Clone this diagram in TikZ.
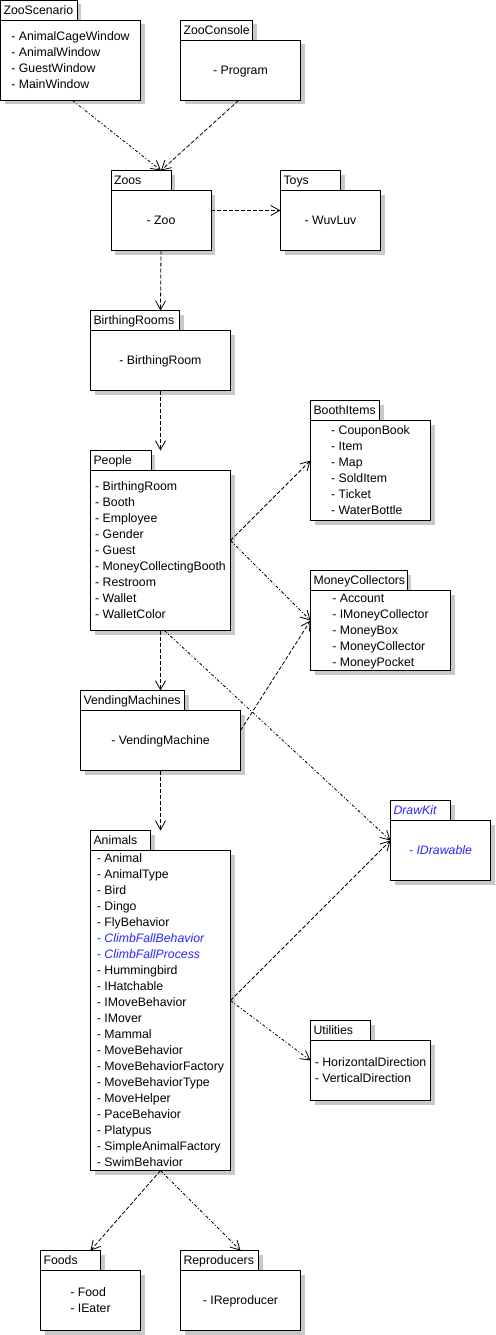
\documentclass[tikz,border=0pt]{standalone}
\usepackage{fontspec}
\setmainfont{Liberation Sans}
\usetikzlibrary{arrows.meta,shadows,calc}
\definecolor{umlblue}{RGB}{40,40,255}
\definecolor{shadowgray}{RGB}{200,200,200}
\newcommand{\ls}{\rule[-3.7pt]{0pt}{16pt}}
\newcommand{\bi}[1]{\textcolor{umlblue}{\itshape #1}}
\tikzset{
  pkgbase/.style={draw=black, fill=white, line width=1pt, anchor=north west,
    inner sep=0pt, outer sep=0pt, font=\fontsize{12.3}{16}\selectfont,
    drop shadow={shadow xshift=4pt, shadow yshift=-4pt, fill=shadowgray, opacity=1}},
  pkgtab/.style={pkgbase, inner xsep=3pt, align=left},
  pkgbody/.style={pkgbase, align=left},
  dep/.style={draw=black, line width=0.8pt, dash pattern=on 4pt off 2pt,
    -{Straight Barb[length=9pt,width=10pt]}},
  depfine/.style={dep, dash pattern=on 3pt off 2pt on 1pt off 2pt}
}
% #1 name, #2 tab x1, #3 tab x2, #4 tab top, #5 body top, #6 body x2, #7 body bottom, #8 label, #9 content
\newcommand{\umlpkg}[9]{%
  \pgfmathsetmacro\tabw{#3-#2}%
  \pgfmathsetmacro\tabtw{#3-#2-6}%
  \pgfmathsetmacro\tabh{#5-#4}%
  \pgfmathsetmacro\bodyw{#6-#2}%
  \pgfmathsetmacro\bodyh{#7-#5}%
  \node[pkgtab, minimum width=\tabw pt, text width=\tabtw pt, minimum height=\tabh pt] (#1-tab) at (#2,#4) {\ls #8};
  \node[pkgbody, minimum width=\bodyw pt, minimum height=\bodyh pt] (#1) at (#2,#5) {#9};
}
\begin{document}
\begin{tikzpicture}[x=1pt,y=-1pt]
\useasboundingbox (0,0) rectangle (495,1335);

\umlpkg{zooscenario}{0.5}{77}{0.5}{20.5}{140.5}{100.5}{ZooScenario}
  {\ls- AnimalCageWindow\\\ls- AnimalWindow\\\ls- GuestWindow\\\ls- MainWindow}
\umlpkg{zooconsole}{180.5}{252.5}{20.5}{40.5}{300.5}{100.5}{ZooConsole}{\ls- Program}
\umlpkg{zoos}{111}{171}{170.5}{190.5}{211}{250.5}{Zoos}{\ls- Zoo}
\umlpkg{toys}{280.5}{340.5}{170.5}{190.5}{380.5}{250.5}{Toys}{\ls- WuvLuv}
\umlpkg{birthingrooms}{90.5}{179.5}{310.5}{330.5}{230.5}{390.5}{BirthingRooms}{\ls- BirthingRoom}
\umlpkg{people}{90.5}{151}{450.5}{470.5}{230.5}{630.5}{People}
  {\ls- BirthingRoom\\\ls- Booth\\\ls- Employee\\\ls- Gender\\\ls- Guest\\\ls- MoneyCollectingBooth\\\ls- Restroom\\\ls- Wallet\\\ls- WalletColor}
\umlpkg{boothitems}{310.5}{379.5}{400.5}{420.5}{430.5}{520.5}{BoothItems}
  {\ls- CouponBook\\\ls- Item\\\ls- Map\\\ls- SoldItem\\\ls- Ticket\\\ls- WaterBottle}
\umlpkg{moneycollectors}{310.5}{407}{570.5}{590.5}{450.5}{670.5}{MoneyCollectors}
  {\ls- Account\\\ls- IMoneyCollector\\\ls- MoneyBox\\\ls- MoneyCollector\\\ls- MoneyPocket}
\umlpkg{vendingmachines}{80.5}{184.5}{690.5}{710.5}{240.5}{770.5}{VendingMachines}{\ls- VendingMachine}
\umlpkg{drawkit}{390.5}{450.5}{800.5}{820.5}{490.5}{880.5}{\bi{DrawKit}}{\ls\bi{- IDrawable}}
\umlpkg{animals}{90.5}{150.5}{830.5}{850.5}{230.5}{1170.5}{Animals}
  {\ls- Animal\\\ls- AnimalType\\\ls- Bird\\\ls- Dingo\\\ls- FlyBehavior\\\ls\bi{- ClimbFallBehavior}\\\ls\bi{- ClimbFallProcess}\\\ls- Hummingbird\\\ls- IHatchable\\\ls- IMoveBehavior\\\ls- IMover\\\ls- Mammal\\\ls- MoveBehavior\\\ls- MoveBehaviorFactory\\\ls- MoveBehaviorType\\\ls- MoveHelper\\\ls- PaceBehavior\\\ls- Platypus\\\ls- SimpleAnimalFactory\\\ls- SwimBehavior}
\umlpkg{utilities}{310.5}{370.5}{1020.5}{1040.5}{430.5}{1100.5}{Utilities}
  {\ls- HorizontalDirection\\\ls- VerticalDirection}
\umlpkg{foods}{40.5}{100.5}{1250.5}{1270.5}{140.5}{1330.5}{Foods}{\ls- Food\\\ls- IEater}
\umlpkg{reproducers}{180.5}{258.5}{1250.5}{1270.5}{300.5}{1330.5}{Reproducers}{\ls- IReproducer}

% connectors
\draw[depfine] ([xshift=2pt]zooscenario.south) -- (zoos.north |- zoos-tab.north);
\draw[dep] ([xshift=-2pt]zooconsole.south) -- (zoos.north |- zoos-tab.north);
\draw[dep] ([yshift=10pt]zoos.east) -- ([yshift=10pt]toys.west);
\draw[dep] (zoos.south) -- (birthingrooms.north |- birthingrooms-tab.north);
\draw[dep] (birthingrooms.south) -- (people.north |- people-tab.north);
\draw[dep] ([yshift=10pt]people.east) -- ([yshift=10pt]boothitems.west);
\draw[depfine] ([yshift=10pt]people.east) -- ([yshift=10pt]moneycollectors.west);
\draw[dep] (people.south) -- (vendingmachines.north |- vendingmachines-tab.north);
\draw[depfine] ([xshift=4pt]people.south) -- ([yshift=10pt]drawkit.west);
\draw[dep] ([yshift=10pt]vendingmachines.east) -- ([yshift=10pt]moneycollectors.west);
\draw[dep] (vendingmachines.south) -- (animals.north |- animals-tab.north);
\draw[dep] ([yshift=10pt]animals.east) -- ([yshift=10pt]drawkit.west);
\draw[depfine] ([yshift=10pt]animals.east) -- ([yshift=10pt]utilities.west);
\draw[dep] (animals.south) -- (foods.north |- foods-tab.north);
\draw[depfine] (animals.south) -- (reproducers.north |- reproducers-tab.north);
\end{tikzpicture}
\end{document}
